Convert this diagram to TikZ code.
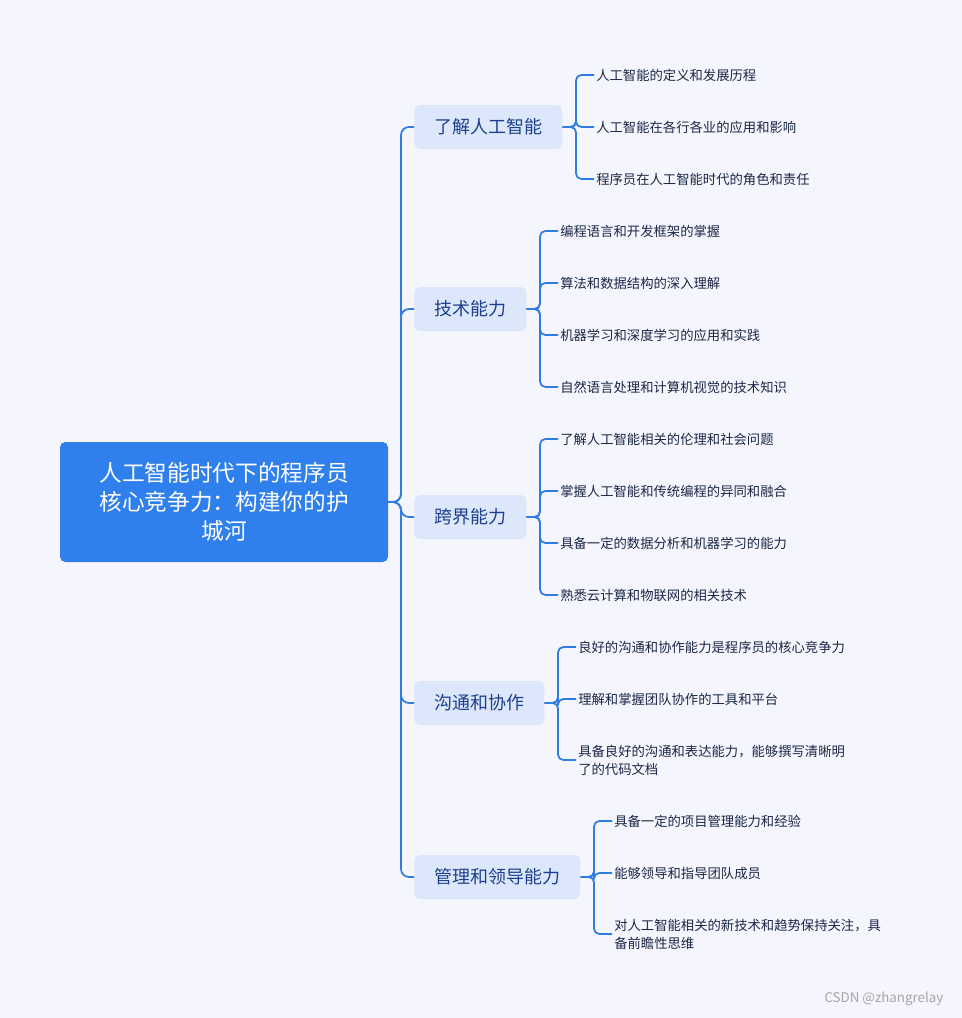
\documentclass[tikz,border=0pt]{standalone}
\usepackage{fontspec}
\setmainfont{Noto Sans CJK SC}
\definecolor{bgc}{HTML}{F5F6FD}
\definecolor{linec}{HTML}{2F7DE3}
\definecolor{rootc}{HTML}{2F80ED}
\definecolor{branchc}{HTML}{DCE7FB}
\definecolor{branchtext}{HTML}{1D3F8F}
\definecolor{leaftext}{HTML}{1B2746}
\tikzset{
  conn/.style={draw=linec, line width=1.3pt, rounded corners=6pt},
  rootbox/.style={fill=rootc, rounded corners=4pt, text=white, align=center,
    font=\fontsize{17}{22}\selectfont, minimum width=328pt*0.75, minimum height=120pt*0.75},
  branchbox/.style={fill=branchc, rounded corners=4pt, text=branchtext,
    font=\fontsize{13.5}{16}\selectfont, minimum height=44*0.75pt, anchor=west, inner xsep=15pt},
  leaf/.style={anchor=west, text=leaftext, font=\fontsize{10}{13.5}\selectfont, align=left, inner xsep=1.5pt},
}
\begin{document}
\begin{tikzpicture}[x=0.75pt,y=-0.75pt]
% page
\fill[bgc] (0,0) rectangle (962,1018);
\useasboundingbox (0,0) rectangle (962,1018);

% root
\node[rootbox] (root) at (224,502) {人工智能时代下的程序员\\核心竞争力：构建你的护\\城河};

% branches
\node[branchbox] (b1) at (414,127) {了解人工智能};
\node[branchbox] (b2) at (414,309) {技术能力};
\node[branchbox] (b3) at (414,517) {跨界能力};
\node[branchbox] (b4) at (414,703) {沟通和协作};
\node[branchbox] (b5) at (414,877) {管理和领导能力};
\foreach \b in {b1,b2,b3,b4,b5}
    \draw[conn] (root.east) -- (401,502) |- (\b.west);

% leaves of b1
\node[leaf] (l11) at (594,75) {人工智能的定义和发展历程};
\node[leaf] (l12) at (594,127) {人工智能在各行各业的应用和影响};
\node[leaf] (l13) at (594,179) {程序员在人工智能时代的角色和责任};
\foreach \l in {l11,l12,l13}
    \draw[conn, rounded corners=4pt] (b1.east) -- (576,127) |- (\l.west);

% leaves of b2
\node[leaf] (l21) at (558,231) {编程语言和开发框架的掌握};
\node[leaf] (l22) at (558,283) {算法和数据结构的深入理解};
\node[leaf] (l23) at (558,335) {机器学习和深度学习的应用和实践};
\node[leaf] (l24) at (558,387) {自然语言处理和计算机视觉的技术知识};
\foreach \l in {l21,l22,l23,l24}
    \draw[conn, rounded corners=4pt] (b2.east) -- (540,309) |- (\l.west);

% leaves of b3
\node[leaf] (l31) at (558,439) {了解人工智能相关的伦理和社会问题};
\node[leaf] (l32) at (558,491) {掌握人工智能和传统编程的异同和融合};
\node[leaf] (l33) at (558,543) {具备一定的数据分析和机器学习的能力};
\node[leaf] (l34) at (558,595) {熟悉云计算和物联网的相关技术};
\foreach \l in {l31,l32,l33,l34}
    \draw[conn, rounded corners=4pt] (b3.east) -- (540,517) |- (\l.west);

% leaves of b4
\node[leaf] (l41) at (576,647) {良好的沟通和协作能力是程序员的核心竞争力};
\node[leaf] (l42) at (576,699) {理解和掌握团队协作的工具和平台};
\node[leaf] (l43) at (576,760) {具备良好的沟通和表达能力，能够撰写清晰明\\了的代码文档};
\foreach \l in {l41,l42,l43}
    \draw[conn, rounded corners=4pt] (b4.east) -- (558,703) |- (\l.west);

% leaves of b5
\node[leaf] (l51) at (612,821) {具备一定的项目管理能力和经验};
\node[leaf] (l52) at (612,873) {能够领导和指导团队成员};
\node[leaf] (l53) at (612,934) {对人工智能相关的新技术和趋势保持关注，具\\备前瞻性思维};
\foreach \l in {l51,l52,l53}
    \draw[conn, rounded corners=4pt] (b5.east) -- (594,877) |- (\l.west);

% watermark
\node[anchor=east, text=gray!70, font=\fontsize{10}{12}\selectfont] (mark) at (948,999) {CSDN @zhangrelay};
\end{tikzpicture}
\end{document}
